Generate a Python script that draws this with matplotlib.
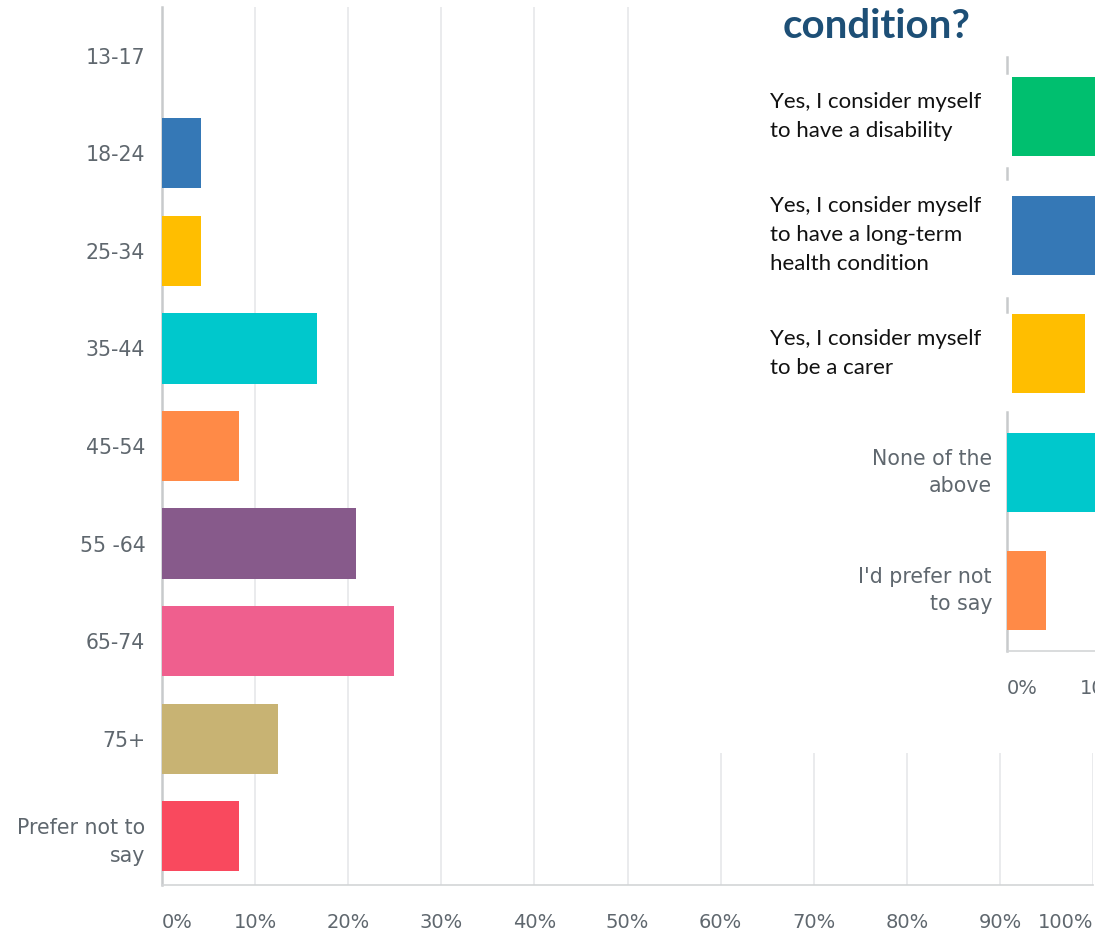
import matplotlib.pyplot as plt
from matplotlib.patches import Rectangle

# main chart: age groups
age_groups = ['13-17', '18-24', '25-34', '35-44', '45-54', '55 -64', '65-74', '75+', 'Prefer not to\nsay']
age_pct = [0.0, 4.2, 4.2, 16.7, 8.3, 20.8, 24.9, 12.5, 8.3]
age_colors = ['#00bf6f', '#3578b6', '#ffbe00', '#00c8cc', '#ff8a47', '#875a8b',
              '#ef5f8e', '#c8b373', '#f9495e']

# overlaid (cropped) second chart
cond_labels = ['Yes, I consider myself\nto have a disability',
               'Yes, I consider myself\nto have a long-term\nhealth condition',
               'Yes, I consider myself\nto be a carer',
               'None of the\nabove',
               "I'd prefer not\nto say"]
cond_pct = [30.0, 40.0, 7.7, 45.0, 4.1]
cond_colors = ['#00bf6f', '#3578b6', '#ffbe00', '#00c8cc', '#ff8a47']
pasted = [True, True, True, False, False]

W, H = 1095, 932
GREY = '#5f676e'
GRID = '#e6e8ea'

fig = plt.figure(figsize=(W / 100, H / 100), dpi=100)

def px_axes(left, top, right, bottom, **kw):
    return fig.add_axes([left / W, 1 - bottom / H, (right - left) / W, (bottom - top) / H], **kw)

ax = px_axes(162, 7, 1093, 885)
ax.barh(range(len(age_groups)), age_pct, height=0.72, color=age_colors, zorder=3)
ax.set_xlim(0, 100)
ax.set_ylim(8.5, -0.5)
ax.set_xticks(range(0, 101, 10))
ax.set_xticklabels([f'{v}%' for v in range(0, 101, 10)])
ax.set_yticks(range(len(age_groups)))
ax.set_yticklabels(age_groups, multialignment='right', linespacing=1.5)
ax.tick_params(axis='x', length=0, pad=20, labelsize=14, labelcolor=GREY)
ax.tick_params(axis='y', length=0, pad=12, labelsize=14.8, labelcolor=GREY)
xl = ax.get_xticklabels()
xl[0].set_ha('left')
xl[-1].set_ha('right')
ax.grid(axis='x', color=GRID, linewidth=1.2, zorder=0)
ax.set_axisbelow(True)
for s in ['top', 'right']:
    ax.spines[s].set_visible(False)
ax.spines['left'].set_color('#c8cacc')
ax.spines['left'].set_linewidth(1.8)
ax.spines['bottom'].set_color('#d3d5d7')
ax.spines['bottom'].set_linewidth(1.2)

# white patch of the pasted screenshot
fig.add_artist(Rectangle((645 / W, 1 - 753 / H), 1, 753 / H, transform=fig.transFigure,
                         facecolor='white', edgecolor='none', zorder=1))

fig.text(877 / W, 1 - 27 / H, 'condition?', ha='center', va='center',
         fontsize=29, fontweight='bold', family='Lato', color='#1d4f76', zorder=5)

ax2 = px_axes(1007, 57, 1957, 651)
ax2.set_zorder(2)
ax2.patch.set_alpha(0)
starts = [0.5 if p else 0 for p in pasted]
ax2.barh(range(len(cond_labels)), cond_pct, left=starts, height=0.665, color=cond_colors, zorder=3)
ax2.set_xlim(0, 100)
ax2.set_ylim(4.507, -0.502)
ax2.set_yticks([])
ax2.set_xticks([0, 10])
ax2.set_xticklabels(['0%', '10%'])
ax2.get_xticklabels()[0].set_ha('left')
ax2.tick_params(axis='x', length=0, pad=20, labelsize=14, labelcolor=GREY)
for s in ['top', 'right']:
    ax2.spines[s].set_visible(False)
ax2.spines['bottom'].set_color('#d3d5d7')
ax2.spines['bottom'].set_linewidth(1.2)
ax2.spines['left'].set_bounds(2.49, 4.507)
ax2.spines['left'].set_color('#c8cacc')
ax2.spines['left'].set_linewidth(1.8)
for y0, y1 in [(-0.502, -0.37), (0.43, 0.53), (1.53, 1.65)]:
    ax2.plot([0, 0], [y0, y1], color='#c8cacc', linewidth=1.8, clip_on=False)

for i, (lab, p) in enumerate(zip(cond_labels, pasted)):
    if p:
        ax2.annotate(lab, xy=(0, i), xycoords=ax2.get_yaxis_transform(),
                     xytext=(-237 * 0.72, 0), textcoords='offset points',
                     ha='left', va='center', family='Lato', fontsize=16,
                     color='#111111', linespacing=1.55)
    else:
        ax2.annotate(lab, xy=(0, i), xycoords=ax2.get_yaxis_transform(),
                     xytext=(-15 * 0.72, 0), textcoords='offset points',
                     ha='right', va='center', fontsize=14.8, color=GREY,
                     multialignment='right', linespacing=1.45)

fig.savefig('out.png', dpi=100)
